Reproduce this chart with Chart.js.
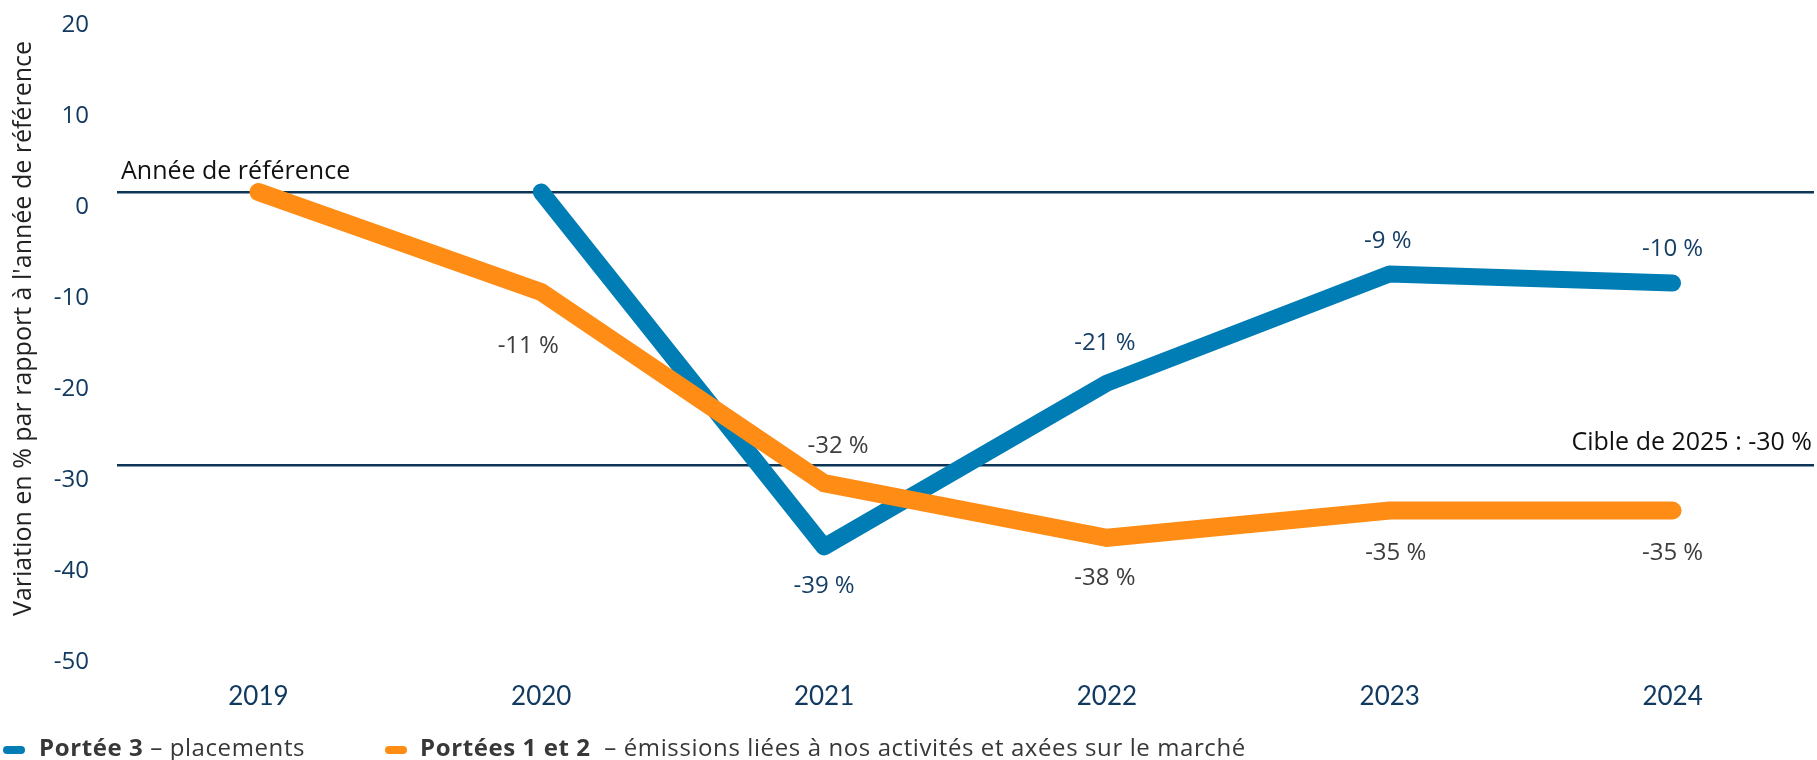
<!DOCTYPE html>
<html>
<head>
<meta charset="utf-8">
<script src="https://cdn.jsdelivr.net/npm/chart.js@4.4.1/dist/chart.umd.min.js"></script>
<style>
  html, body { margin: 0; padding: 0; background: #ffffff; }
  #wrap { position: relative; width: 1817px; height: 760px; overflow: hidden; }
  #c { position: absolute; left: 0; top: 0; }
  #legend { position: absolute; left: 0; top: 733px; height: 27px; width: 1817px;
            font-family: "Open Sans", sans-serif; font-size: 24px; letter-spacing: 0.6px; color: #383838; white-space: pre; }
  .item { position: absolute; top: 0; line-height: 27px; }
  .mark { position: absolute; top: 13px; width: 22px; height: 8px; border-radius: 4px; }
  .item b { font-weight: 700; }
</style>
</head>
<body>
<div id="wrap">
  <canvas id="c" width="1817" height="760"></canvas>
  <div id="legend">
    <span class="mark" style="left:3px;background:#007db5"></span>
    <span class="item" style="left:39px"><b>Portée 3</b> – placements</span>
    <span class="mark" style="left:385px;background:#ff8c14"></span>
    <span class="item" style="left:420px"><b>Portées 1 et 2</b>  – émissions liées à nos activités et axées sur le marché</span>
  </div>
</div>
<script>
// ---- data ----
const years = ['2019', '2020', '2021', '2022', '2023', '2024'];
const scope3Values = [null, 0, -39, -21, -9, -10];
const scope12Values = [0, -11, -32, -38, -35, -35];
const scope3Labels = [null, null, '-39 %', '-21 %', '-9 %', '-10 %'];
const scope12Labels = [null, '-11 %', '-32 %', '-38 %', '-35 %', '-35 %'];
const yTickValues = [20, 10, 0, -10, -20, -30, -40, -50];
const referenceLineValue = 0;
const targetLineValue = -30;
const referenceText = 'Année de référence';
const targetText = 'Cible de 2025 : -30 %';
const yTitle = "Variation en % par rapport à l'année de référence";

// label placement (pixel offsets from the point), kept apart from the data
const scope3LabelOffsets = [null, null, [0, 39], [-2, -40], [-2, -33], [0, -34]];
const scope12LabelOffsets = [null, [-13, 54], [14, -37], [-2, 40], [6, 43], [0, 43]];

const BLUE = '#007db5';
const ORANGE = '#ff8c14';
const NAVY = '#123a60';

const labelPlugin = {
  id: 'pointLabels',
  afterDatasetsDraw(chart) {
    const ctx = chart.ctx;
    chart.data.datasets.forEach((ds, i) => {
      const meta = chart.getDatasetMeta(i);
      const labels = ds.pointLabelTexts, offs = ds.pointLabelOffsets;
      if (!labels) return;
      ctx.save();
      ctx.font = '24px "Open Sans", sans-serif';
      ctx.fillStyle = ds.pointLabelColor;
      ctx.textAlign = 'center';
      ctx.textBaseline = 'middle';
      meta.data.forEach((pt, j) => {
        if (!labels[j] || !offs[j]) return;
        ctx.fillText(labels[j], pt.x + offs[j][0], pt.y + offs[j][1]);
      });
      ctx.restore();
    });
  }
};

const refTextPlugin = {
  id: 'refText',
  afterDraw(chart) {
    const ctx = chart.ctx, y = chart.scales.y, a = chart.chartArea;
    ctx.save();
    ctx.font = '25px "Open Sans", sans-serif';
    ctx.fillStyle = '#111111';
    ctx.textBaseline = 'middle';
    ctx.textAlign = 'left';
    ctx.fillText(referenceText, a.left + 4, y.getPixelForValue(referenceLineValue) - 20);
    ctx.textAlign = 'right';
    ctx.fillText(targetText, a.right - 2, y.getPixelForValue(targetLineValue) - 22);
    ctx.restore();
  }
};

new Chart(document.getElementById('c'), {
  type: 'line',
  data: {
    labels: years,
    datasets: [
      {
        label: 'Portée 3 – placements',
        data: scope3Values,
        borderColor: BLUE,
        backgroundColor: BLUE,
        borderWidth: 17,
        borderCapStyle: 'round',
        borderJoinStyle: 'round',
        pointRadius: 0,
        tension: 0,
        spanGaps: false,
        order: 2,
        pointLabelTexts: scope3Labels,
        pointLabelOffsets: scope3LabelOffsets,
        pointLabelColor: '#163f66'
      },
      {
        label: 'Portées 1 et 2 – émissions liées à nos activités et axées sur le marché',
        data: scope12Values,
        borderColor: ORANGE,
        backgroundColor: ORANGE,
        borderWidth: 18,
        borderCapStyle: 'round',
        borderJoinStyle: 'miter',
        pointRadius: 0,
        tension: 0,
        order: 1,
        pointLabelTexts: scope12Labels,
        pointLabelOffsets: scope12LabelOffsets,
        pointLabelColor: '#3d3d3d'
      }
    ]
  },
  options: {
    responsive: false,
    animation: false,
    devicePixelRatio: 1,
    layout: { padding: { top: 10, right: 3, bottom: 43, left: 0 } },
    plugins: {
      legend: { display: false },
      tooltip: { enabled: false }
    },
    scales: {
      x: {
        type: 'category',
        offset: true,
        grid: { display: false, drawTicks: false },
        border: { display: false },
        ticks: {
          color: NAVY,
          font: { family: 'Lato, "Open Sans", sans-serif', size: 26 },
          padding: 34,
          maxRotation: 0
        },
        afterFit(scale) { scale.height = 70; scale.paddingLeft = 0; scale.paddingRight = 0; }
      },
      y: {
        min: -50,
        max: 20,
        afterBuildTicks(scale) { scale.ticks = yTickValues.map(v => ({ value: v })); },
        grid: {
          drawTicks: false,
          lineWidth: 2.5,
          color: (c) => (c.tick && (c.tick.value === referenceLineValue || c.tick.value === targetLineValue)) ? '#0d3557' : 'rgba(0,0,0,0)'
        },
        border: { display: false },
        ticks: {
          color: NAVY,
          font: { family: '"Open Sans", sans-serif', size: 24 },
          padding: 28,
          labelOffset: 15
        },
        title: {
          display: true,
          text: yTitle,
          color: '#222222',
          font: { family: '"Open Sans", sans-serif', size: 25 },
          padding: { top: 9, bottom: 0 }
        },
        afterFit(scale) { scale.width = 117; scale.paddingTop = 0; scale.paddingBottom = 0; }
      }
    }
  },
  plugins: [labelPlugin, refTextPlugin]
});
</script>
</body>
</html>
